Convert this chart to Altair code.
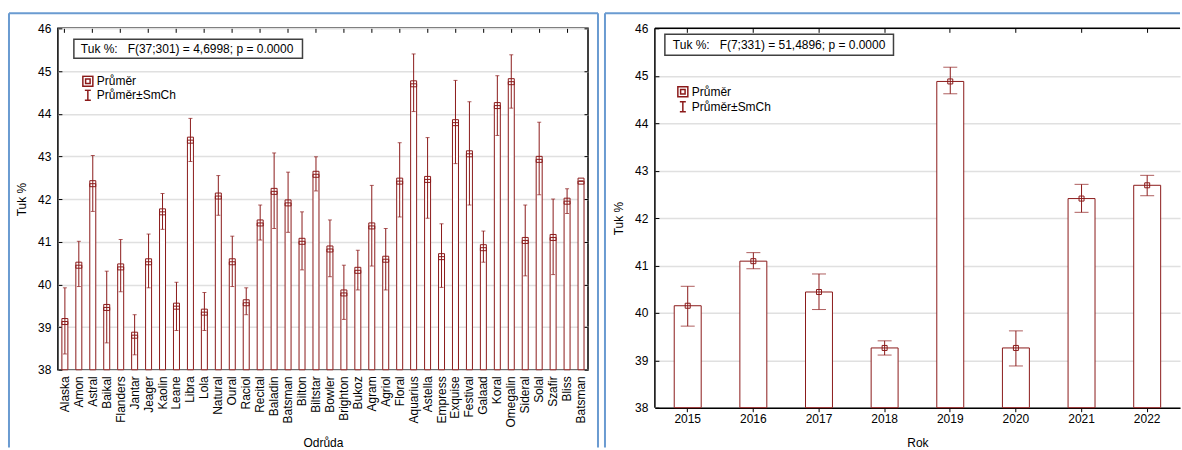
import altair as alt
import pandas as pd

# ---------------- data ----------------
varieties = ["Alaska", "Amon", "Astral", "Baikal", "Flanders", "Jantar", "Jeager", "Kaolin",
             "Leane", "Libra", "Lola", "Natural", "Oural", "Raciol", "Recital", "Baladin",
             "Batsman", "Bilton", "Biltstar", "Bowler", "Brighton", "Bukoz", "Agram", "Agriol",
             "Floral", "Aquarius", "Astella", "Empress", "Exquise", "Festival", "Galaad", "Koral",
             "Omegalin", "Sideral", "Solal", "Szafir", "Bliss", "Batsman"]
var_mean = [39.13, 40.45, 42.36, 39.46, 40.41, 38.81, 40.53, 41.70, 39.49, 43.38, 39.35, 42.07,
            40.53, 39.57, 41.44, 42.18, 41.91, 41.01, 42.58, 40.83, 39.80, 40.33, 41.37, 40.59,
            42.42, 44.70, 42.46, 40.65, 43.79, 43.06, 40.86, 44.19, 44.75, 41.03, 42.93, 41.10,
            41.95, 42.42]
var_upper = [39.92, 41.01, 43.02, 40.31, 41.05, 39.29, 41.18, 42.13, 40.05, 43.89, 39.81, 42.55,
             41.13, 39.92, 41.86, 43.08, 42.63, 41.70, 42.99, 41.51, 40.45, 40.80, 42.32, 41.31,
             43.32, 45.40, 43.44, 41.42, 44.78, 44.28, 41.25, 44.89, 45.38, 41.86, 43.80, 42.00,
             42.24, 42.42]
var_lower = [38.37, 39.95, 41.71, 38.63, 39.83, 38.35, 39.92, 41.29, 38.92, 42.88, 38.92, 41.62,
             39.95, 39.29, 41.04, 41.31, 41.22, 40.34, 42.19, 40.18, 39.18, 39.87, 40.43, 39.87,
             41.58, 44.05, 41.55, 39.93, 42.83, 41.86, 40.52, 43.49, 44.13, 40.20, 42.10, 40.23,
             41.66, 42.42]

years = ["2015", "2016", "2017", "2018", "2019", "2020", "2021", "2022"]
year_mean = [40.15, 41.09, 40.44, 39.26, 44.88, 39.26, 42.41, 42.69]
year_upper = [40.56, 41.27, 40.82, 39.41, 45.18, 39.62, 42.71, 42.90]
year_lower = [39.72, 40.93, 40.07, 39.11, 44.62, 38.88, 42.12, 42.47]

y_ticks = [38, 39, 40, 41, 42, 43, 44, 45, 46]
legend_labels = ["Průměr", "Průměr±SmCh"]
ftext_left = "Tuk %:\u00a0\u00a0\u00a0F(37;301) = 4,6998; p = 0.0000"
ftext_right = "Tuk %:\u00a0\u00a0\u00a0F(7;331) = 51,4896; p = 0.0000"

# ---------------- style ----------------
FONT = "Liberation Sans"
RED = "#8b1a1a"
BLUE = "#6a9bd1"
GRID = "#e0e0e0"

left_df = pd.DataFrame({"idx": list(range(len(varieties))), "name": varieties,
                        "mean": var_mean, "lower": var_lower, "upper": var_upper})
right_df = pd.DataFrame({"year": years, "mean": year_mean,
                         "lower": year_lower, "upper": year_upper})
leg_df = pd.DataFrame({"k": legend_labels})
one = pd.DataFrame({"k": [0]})

SQ_PATH = "M-1,-1H1V1H-1Z M-0.45,-0.45H0.45V0.45H-0.45Z"
IBEAM_PATH = "M-0.6,-1H0.6M0,-1V1M-0.6,1H0.6"

YSCALE = alt.Scale(domain=[38, 46], nice=False, zero=False)


def legend_layer(lx, ly, rowh):
    return alt.Chart(leg_df).mark_point(opacity=0, color=RED, filled=False).encode(
        x=alt.value(0), y=alt.value(0),
        shape=alt.Shape("k:N", scale=alt.Scale(domain=legend_labels, range=[SQ_PATH, IBEAM_PATH]),
                        legend=alt.Legend(title=None, orient="none", legendX=lx, legendY=ly,
                                          labelFont=FONT, labelFontSize=12, labelColor="black",
                                          symbolSize=100, symbolStrokeColor=RED,
                                          symbolStrokeWidth=1.5, symbolOpacity=1,
                                          symbolFillColor="transparent", rowPadding=2,
                                          clipHeight=rowh, padding=0, labelOffset=3)))


def ftext_layers(x1, x2, y1, y2, tx, txt):
    box = alt.Chart(one).mark_rect(fill="white", stroke="#404040", strokeWidth=1.5).encode(
        x=alt.value(x1), x2=alt.value(x2), y=alt.value(y1), y2=alt.value(y2))
    text = alt.Chart(one).mark_text(align="left", baseline="middle", font=FONT, fontSize=12,
                                    color="black").encode(
        x=alt.value(tx), y=alt.value((y1 + y2) / 2), text=alt.value(txt))
    return [box, text]


def hrule(x1, x2, y, color, w):
    return alt.Chart(one).mark_rule(color=color, strokeWidth=w).encode(
        x=alt.value(x1), x2=alt.value(x2), y=alt.value(y))


def vrule(x, y1, y2, color, w):
    return alt.Chart(one).mark_rule(color=color, strokeWidth=w).encode(
        x=alt.value(x), y=alt.value(y1), y2=alt.value(y2))


def y_left_axis():
    return alt.Axis(title="Tuk %", values=y_ticks, offset=-4, tickSize=4, domain=False,
                    labelPadding=7, titlePadding=9, grid=True, gridColor=GRID, gridWidth=1.5)


# ---------------- left chart ----------------
LW, LH = 531, 342
label_expr = "[" + ",".join("'" + n + "'" for n in varieties) + "][datum.value]"


def xl(axis):
    return alt.X("idx:O", scale=alt.Scale(paddingInner=0, paddingOuter=0), axis=axis)


bars_l = alt.Chart(left_df).mark_bar(size=6, fill="white", stroke=RED, strokeWidth=1).encode(
    x=xl(alt.Axis(title="Odrůda", labelExpr=label_expr, labelAngle=270, ticks=False, tickSize=0,
                  domain=False, labelPadding=6, titlePadding=11, grid=False)),
    y=alt.Y("mean:Q", scale=YSCALE, axis=y_left_axis()),
    y2=alt.datum(38))
err_l = alt.Chart(left_df).mark_rule(color=RED, strokeWidth=1).encode(
    x=xl(None), y=alt.Y("lower:Q", scale=YSCALE, axis=None), y2="upper:Q")
caplo_l = alt.Chart(left_df).mark_tick(color=RED, size=4, thickness=1, orient="horizontal").encode(
    x=xl(None), y=alt.Y("lower:Q", scale=YSCALE, axis=None))
caphi_l = alt.Chart(left_df).mark_tick(color=RED, size=4, thickness=1, orient="horizontal").encode(
    x=xl(alt.Axis(orient="top", values=list(range(0, len(varieties), 2)), labels=False,
                  domain=False, offset=-4, tickSize=4, title=None, grid=False)),
    y=alt.Y("upper:Q", scale=YSCALE,
            axis=alt.Axis(orient="right", values=y_ticks, labels=False, domain=False, offset=-4,
                          tickSize=4, title=None, grid=False)))
pts_l = alt.Chart(left_df).mark_point(shape="square", size=36, filled=False, color=RED,
                                      strokeWidth=1, opacity=1).encode(
    x=xl(None), y=alt.Y("mean:Q", scale=YSCALE, axis=None))

left = alt.layer(
    bars_l, err_l, caplo_l, caphi_l, pts_l,
    *ftext_layers(16, 245, 11, 30, 23, ftext_left),
    legend_layer(24, 47, 12),
    hrule(-49, 541, -15, BLUE, 2), vrule(-49, -15, 420, BLUE, 2), vrule(541, -15, 420, BLUE, 2),
).resolve_axis(x="independent", y="independent").properties(width=LW, height=LH)

# ---------------- right chart ----------------
RW, RH = 526, 380


def xr(axis):
    return alt.X("year:O", scale=alt.Scale(paddingInner=0, paddingOuter=0), axis=axis)


bars_r = alt.Chart(right_df).mark_bar(size=27, fill="white", stroke=RED, strokeWidth=1).encode(
    x=xr(alt.Axis(title="Rok", labelAngle=0, tickSize=4, domain=True, domainWidth=1.5,
                  labelPadding=2, titlePadding=13, grid=False)),
    y=alt.Y("mean:Q", scale=YSCALE, axis=y_left_axis()),
    y2=alt.datum(38))
err_r = alt.Chart(right_df).mark_rule(color=RED, strokeWidth=1).encode(
    x=xr(None), y=alt.Y("lower:Q", scale=YSCALE, axis=None), y2="upper:Q")
caplo_r = alt.Chart(right_df).mark_tick(color=RED, size=14, thickness=1, orient="horizontal").encode(
    x=xr(None), y=alt.Y("lower:Q", scale=YSCALE, axis=None))
caphi_r = alt.Chart(right_df).mark_tick(color=RED, size=14, thickness=1, orient="horizontal").encode(
    x=xr(alt.Axis(orient="top", labels=False, domain=False, offset=-4, tickSize=4, title=None,
                  grid=False)),
    y=alt.Y("upper:Q", scale=YSCALE, axis=None))
pts_r = alt.Chart(right_df).mark_point(shape="square", size=25, filled=False, color=RED,
                                       strokeWidth=1, opacity=1).encode(
    x=xr(None), y=alt.Y("mean:Q", scale=YSCALE, axis=None))

right = alt.layer(
    bars_r, err_r, caplo_r, caphi_r, pts_r,
    *ftext_layers(10, 239, 6, 27, 18, ftext_right),
    legend_layer(22, 57, 13),
    hrule(0, RW, 0, "black", 1.5), vrule(0, 0, RH, "black", 1.5),
    hrule(-50, RW, -15, BLUE, 2), vrule(-50, -15, 420, BLUE, 2),
).resolve_axis(x="independent", y="independent").properties(
    width=RW, height=RH, view=alt.ViewBackground(stroke="transparent"))

chart = alt.hconcat(left, right, spacing=3).resolve_scale(shape="independent").resolve_legend(
    shape="independent"
).properties(
    padding={"left": 7, "top": 11, "right": 0, "bottom": 0}
).configure(font=FONT).configure_axis(
    labelFont=FONT, labelFontSize=12, labelColor="black", titleFont=FONT, titleFontSize=12,
    titleFontWeight="normal", titleColor="black", tickColor="black", domainColor="black"
).configure_view(stroke="black", strokeWidth=1.5)

chart.save("out.html", embed_options={"renderer": "svg", "actions": False})
